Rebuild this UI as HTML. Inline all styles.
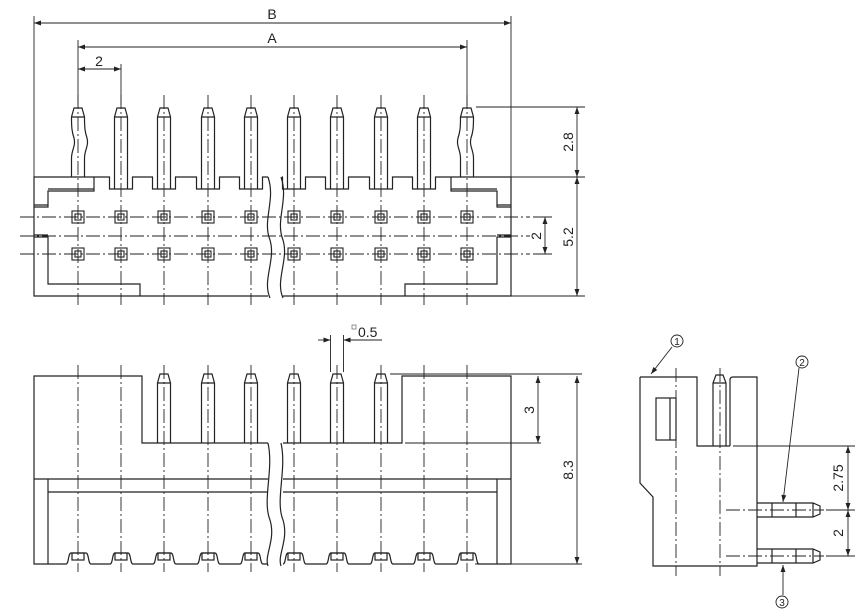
<!DOCTYPE html>
<html><head><meta charset="utf-8"><style>
html,body{margin:0;padding:0;background:#fff;}
svg{display:block;}
text{font-family:"Liberation Sans",sans-serif;fill:#222;}
</style></head><body>
<svg width="865" height="612" viewBox="0 0 865 612" xmlns="http://www.w3.org/2000/svg">
<defs>
<marker id="ar" viewBox="0 0 10 10" refX="10" refY="5" markerWidth="9" markerHeight="7" orient="auto-start-reverse" markerUnits="userSpaceOnUse"><path d="M0,1.5 L10,5 L0,8.5 z" fill="#222"/></marker>
</defs>
<g fill="none" stroke="#222" stroke-width="1.2">
<!-- ===== TOP VIEW ===== -->
<!-- centerlines -->
<g stroke-width="0.9" stroke-dasharray="14,3,2,3">
<line x1="20" y1="217" x2="530" y2="217"/>
<line x1="20" y1="236" x2="530" y2="236"/>
<line x1="20" y1="254" x2="530" y2="254"/>
<line x1="78" y1="95" x2="78" y2="305"/><line x1="121" y1="95" x2="121" y2="305"/>
<line x1="164" y1="95" x2="164" y2="305"/><line x1="208" y1="95" x2="208" y2="305"/>
<line x1="251" y1="95" x2="251" y2="305"/><line x1="294" y1="95" x2="294" y2="305"/>
<line x1="337" y1="95" x2="337" y2="305"/><line x1="381" y1="95" x2="381" y2="305"/>
<line x1="424" y1="95" x2="424" y2="305"/><line x1="467" y1="95" x2="467" y2="305"/>
</g>
<!-- outline -->
<path d="M268,296 L34,296 L34,177 L109.5,177 L109.5,189 L132.5,189 L132.5,177 L152.5,177 L152.5,189 L175.5,189 L175.5,177 L196.5,177 L196.5,189 L219.5,189 L219.5,177 L239.5,177 L239.5,189 L262.5,189 L262.5,177 L268,177"/>
<path d="M283,296 L511,296 L511,177 L435.5,177 L435.5,189 L412.5,189 L412.5,177 L392.5,177 L392.5,189 L369.5,189 L369.5,177 L348.5,177 L348.5,189 L325.5,189 L325.5,177 L305.5,177 L305.5,189 L282.5,189 L282.5,177 L283,177"/>
<!-- break lines -->
<path d="M268,177 C276,200 262,220 270,240 C276,260 262,280 270,298"/>
<path d="M281,177 C289,200 275,220 283,240 C289,260 275,280 283,298"/>
<!-- internal -->
<path d="M94,177 L94,191 L48,191 L48,207 L34,207 M94,189 L48,189 M48,205 L34,205"/>
<path d="M34,237 L48,237 L48,284 L140,284 L140,296 M34,235 L48,235"/>
<path d="M451,177 L451,191 L497,191 L497,207 L511,207 M451,189 L497,189 M497,205 L511,205"/>
<path d="M511,237 L497,237 L497,284 L405,284 L405,296 M511,235 L497,235"/>
<!-- pins top view -->
<g>
<path d="M114.5,189 L114.5,117 L117,108 L125,108 L127.5,117 L127.5,189 M114.5,117 L127.5,117"/>
<path d="M157.5,189 L157.5,117 L160,108 L168,108 L170.5,117 L170.5,189 M157.5,117 L170.5,117"/>
<path d="M201.5,189 L201.5,117 L204,108 L212,108 L214.5,117 L214.5,189 M201.5,117 L214.5,117"/>
<path d="M244.5,189 L244.5,117 L247,108 L255,108 L257.5,117 L257.5,189 M244.5,117 L257.5,117"/>
<path d="M287.5,189 L287.5,117 L290,108 L298,108 L300.5,117 L300.5,189 M287.5,117 L300.5,117"/>
<path d="M330.5,189 L330.5,117 L333,108 L341,108 L343.5,117 L343.5,189 M330.5,117 L343.5,117"/>
<path d="M374.5,189 L374.5,117 L377,108 L385,108 L387.5,117 L387.5,189 M374.5,117 L387.5,117"/>
<path d="M417.5,189 L417.5,117 L420,108 L428,108 L430.5,117 L430.5,189 M417.5,117 L430.5,117"/>
<!-- kinked end pins -->
<path d="M71.5,177 L71.5,158 C71.5,150 76,146 74,138 C72,132 71.5,128 71.5,117 L74,108 L82,108 L84.5,117 C84.5,128 85,132 87,138 C89,146 84.5,150 84.5,158 L84.5,177 M71.5,117 L84.5,117"/>
<path d="M473.5,177 L473.5,158 C473.5,150 469,146 471,138 C473,132 473.5,128 473.5,117 L471,108 L463,108 L460.5,117 C460.5,128 460,132 458,138 C456,146 460.5,150 460.5,158 L460.5,177 M473.5,117 L460.5,117"/>
</g>
<!-- pads -->
<g stroke-width="1.1">
<rect x="72" y="211" width="12" height="12"/><rect x="75" y="214" width="6" height="6"/>
<rect x="115" y="211" width="12" height="12"/><rect x="118" y="214" width="6" height="6"/>
<rect x="158" y="211" width="12" height="12"/><rect x="161" y="214" width="6" height="6"/>
<rect x="202" y="211" width="12" height="12"/><rect x="205" y="214" width="6" height="6"/>
<rect x="245" y="211" width="12" height="12"/><rect x="248" y="214" width="6" height="6"/>
<rect x="288" y="211" width="12" height="12"/><rect x="291" y="214" width="6" height="6"/>
<rect x="331" y="211" width="12" height="12"/><rect x="334" y="214" width="6" height="6"/>
<rect x="375" y="211" width="12" height="12"/><rect x="378" y="214" width="6" height="6"/>
<rect x="418" y="211" width="12" height="12"/><rect x="421" y="214" width="6" height="6"/>
<rect x="461" y="211" width="12" height="12"/><rect x="464" y="214" width="6" height="6"/>
<rect x="72" y="248" width="12" height="12"/><rect x="75" y="251" width="6" height="6"/>
<rect x="115" y="248" width="12" height="12"/><rect x="118" y="251" width="6" height="6"/>
<rect x="158" y="248" width="12" height="12"/><rect x="161" y="251" width="6" height="6"/>
<rect x="202" y="248" width="12" height="12"/><rect x="205" y="251" width="6" height="6"/>
<rect x="245" y="248" width="12" height="12"/><rect x="248" y="251" width="6" height="6"/>
<rect x="288" y="248" width="12" height="12"/><rect x="291" y="251" width="6" height="6"/>
<rect x="331" y="248" width="12" height="12"/><rect x="334" y="251" width="6" height="6"/>
<rect x="375" y="248" width="12" height="12"/><rect x="378" y="251" width="6" height="6"/>
<rect x="418" y="248" width="12" height="12"/><rect x="421" y="251" width="6" height="6"/>
<rect x="461" y="248" width="12" height="12"/><rect x="464" y="251" width="6" height="6"/>
</g>
<!-- dimensions top -->
<g stroke-width="0.9">
<line x1="34" y1="16" x2="34" y2="177"/><line x1="511" y1="16" x2="511" y2="177"/>
<line x1="78" y1="40" x2="78" y2="105"/><line x1="467" y1="40" x2="467" y2="105"/>
<line x1="121" y1="64" x2="121" y2="105"/>
<line x1="34" y1="23" x2="511" y2="23" marker-start="url(#ar)" marker-end="url(#ar)"/>
<line x1="78" y1="47" x2="467" y2="47" marker-start="url(#ar)" marker-end="url(#ar)"/>
<line x1="78" y1="69" x2="121" y2="69" marker-start="url(#ar)" marker-end="url(#ar)"/>
<line x1="476" y1="107" x2="585" y2="107"/>
<line x1="511" y1="177" x2="585" y2="177"/>
<line x1="511" y1="296" x2="585" y2="296"/>
<line x1="577" y1="107" x2="577" y2="177" marker-start="url(#ar)" marker-end="url(#ar)"/>
<line x1="577" y1="177" x2="577" y2="296" marker-start="url(#ar)" marker-end="url(#ar)"/>
<line x1="533" y1="217" x2="552" y2="217"/><line x1="533" y1="254" x2="552" y2="254"/>
<line x1="545" y1="217" x2="545" y2="254" marker-start="url(#ar)" marker-end="url(#ar)"/>
</g>

<!-- ===== FRONT VIEW ===== -->
<g stroke-width="0.9" stroke-dasharray="14,3,2,3">
<line x1="78" y1="365" x2="78" y2="572"/><line x1="121" y1="365" x2="121" y2="572"/>
<line x1="164" y1="365" x2="164" y2="572"/><line x1="208" y1="365" x2="208" y2="572"/>
<line x1="251" y1="365" x2="251" y2="572"/><line x1="294" y1="365" x2="294" y2="572"/>
<line x1="337" y1="365" x2="337" y2="572"/><line x1="381" y1="365" x2="381" y2="572"/>
<line x1="424" y1="365" x2="424" y2="572"/><line x1="467" y1="365" x2="467" y2="572"/>
</g>
<path d="M268,443 L142,443 L142,376 L34,376 L34,564 L66,564"/>
<path d="M283,443 L402,443 L402,376 L511,376 L511,564 L478,564"/>
<path d="M34,479 L268,479 M283,479 L511,479 M48,492 L268,492 M283,492 L497,492 M48,479 L48,564 M497,479 L497,564"/>
<!-- bottom bumps -->
<g>
<path d="M66,564 C69,564 68,553 71,553 L86,553 C89,553 88,564 91,564 L110,564 C113,564 112,553 115,553 L128,553 C131,553 130,564 133,564 L153,564 C156,564 155,553 158,553 L171,553 C174,553 173,564 176,564 L197,564 C200,564 199,553 202,553 L215,553 C218,553 217,564 220,564 L240,564 C243,564 242,553 245,553 L258,553 C261,553 260,564 263,564 L268,564"/>
<path d="M283,564 C286,564 285,553 288,553 L301,553 C304,553 303,564 306,564 L326,564 C329,564 328,553 331,553 L344,553 C347,553 346,564 349,564 L370,564 C373,564 372,553 375,553 L388,553 C391,553 390,564 393,564 L413,564 C416,564 415,553 418,553 L431,553 C434,553 433,564 436,564 L456,564 C459,564 458,553 461,553 L474,553 C477,553 476,564 479,564"/>
<rect x="72" y="553" width="12" height="7"/><rect x="115" y="553" width="12" height="7"/>
<rect x="158" y="553" width="12" height="7"/><rect x="202" y="553" width="12" height="7"/>
<rect x="245" y="553" width="12" height="7"/><rect x="288" y="553" width="12" height="7"/>
<rect x="331" y="553" width="12" height="7"/><rect x="375" y="553" width="12" height="7"/>
<rect x="418" y="553" width="12" height="7"/><rect x="461" y="553" width="12" height="7"/>
</g>
<!-- front pins -->
<path d="M157.5,443 L157.5,383 L160,374 L168,374 L170.5,383 L170.5,443 M157.5,383 L170.5,383"/>
<path d="M201.5,443 L201.5,383 L204,374 L212,374 L214.5,383 L214.5,443 M201.5,383 L214.5,383"/>
<path d="M244.5,443 L244.5,383 L247,374 L255,374 L257.5,383 L257.5,443 M244.5,383 L257.5,383"/>
<path d="M287.5,443 L287.5,383 L290,374 L298,374 L300.5,383 L300.5,443 M287.5,383 L300.5,383"/>
<path d="M330.5,443 L330.5,383 L333,374 L341,374 L343.5,383 L343.5,443 M330.5,383 L343.5,383"/>
<path d="M374.5,443 L374.5,383 L377,374 L385,374 L387.5,383 L387.5,443 M374.5,383 L387.5,383"/>
<!-- break front -->
<path d="M268,443 C274,470 262,500 270,520 C276,540 264,555 268,566"/>
<path d="M281,443 C287,470 275,500 283,520 C289,540 277,555 281,566"/>
<!-- front dims -->
<g stroke-width="0.9">
<line x1="330.5" y1="335" x2="330.5" y2="372"/><line x1="343.5" y1="335" x2="343.5" y2="372"/>
<line x1="318" y1="340" x2="330.5" y2="340" marker-end="url(#ar)"/>
<line x1="382" y1="340" x2="343.5" y2="340" marker-end="url(#ar)"/>
<line x1="390" y1="374" x2="582" y2="374"/>
<line x1="405" y1="443" x2="541" y2="443"/>
<line x1="475" y1="564" x2="582" y2="564"/>
<line x1="538" y1="376" x2="538" y2="443" marker-start="url(#ar)" marker-end="url(#ar)"/>
<line x1="577" y1="376" x2="577" y2="564" marker-start="url(#ar)" marker-end="url(#ar)"/>
</g>

<!-- ===== SIDE VIEW ===== -->
<g stroke-width="0.9" stroke-dasharray="14,3,2,3">
<line x1="676" y1="368" x2="676" y2="576"/>
<line x1="720" y1="368" x2="720" y2="576"/>
<line x1="726" y1="510" x2="824" y2="510"/>
<line x1="726" y1="556" x2="824" y2="556"/>
</g>
<path d="M640,377 L697,377 L697,446 L730,446 M730,446 L730,380 Q730,377 733,377 L757,377 L757,566 L653,566 L653,497 L640,483 L640,377"/>
<rect x="656" y="398" width="20" height="42"/><line x1="670" y1="398" x2="670" y2="440"/>
<path d="M713,446 L713,383 L716,375 L723,375 L726,383 L726,446 M713,383 L726,383"/>
<path d="M757,503 L813,503 L820,506 L820,514 L813,517 L757,517 M772,503 L772,517 M796,503 L796,517 M813,503 L813,517"/>
<path d="M757,549 L813,549 L820,552 L820,560 L813,563 L757,563 M772,549 L772,563 M796,549 L796,563 M813,549 L813,563"/>
<g stroke-width="0.9">
<line x1="733" y1="446" x2="855" y2="446"/>
<line x1="826" y1="510" x2="855" y2="510"/>
<line x1="826" y1="556" x2="855" y2="556"/>
<line x1="848" y1="446" x2="848" y2="510" marker-start="url(#ar)" marker-end="url(#ar)"/>
<line x1="848" y1="510" x2="848" y2="556" marker-start="url(#ar)" marker-end="url(#ar)"/>
<line x1="672" y1="347" x2="651" y2="374" marker-end="url(#ar)"/>
<line x1="799" y1="368" x2="783" y2="502" marker-end="url(#ar)"/>
<line x1="783" y1="595" x2="783" y2="565" marker-end="url(#ar)"/>
<circle cx="677" cy="341" r="6"/>
<circle cx="802" cy="362" r="6"/>
<circle cx="782" cy="602" r="6"/>
</g>
</g>
<!-- labels -->
<g font-size="14">
<text x="272" y="19" text-anchor="middle">B</text>
<text x="272" y="43" text-anchor="middle">A</text>
<text x="99" y="66" text-anchor="middle">2</text>
<text transform="translate(573,142) rotate(-90)" text-anchor="middle">2.8</text>
<text transform="translate(573,237) rotate(-90)" text-anchor="middle">5.2</text>
<text transform="translate(541,236) rotate(-90)" text-anchor="middle">2</text>
<text x="358" y="337">0.5</text>
<text transform="translate(534,410) rotate(-90)" text-anchor="middle">3</text>
<text transform="translate(573,470) rotate(-90)" text-anchor="middle">8.3</text>
<text transform="translate(843,478) rotate(-90)" text-anchor="middle">2.75</text>
<text transform="translate(843,533) rotate(-90)" text-anchor="middle">2</text>
</g>
<rect x="352" y="325" width="4" height="4" fill="none" stroke="#666" stroke-width="0.7"/>
<g font-size="10" text-anchor="middle">
<text x="677" y="345">1</text>
<text x="802" y="366">2</text>
<text x="782" y="606">3</text>
</g>
</svg>
</body></html>
